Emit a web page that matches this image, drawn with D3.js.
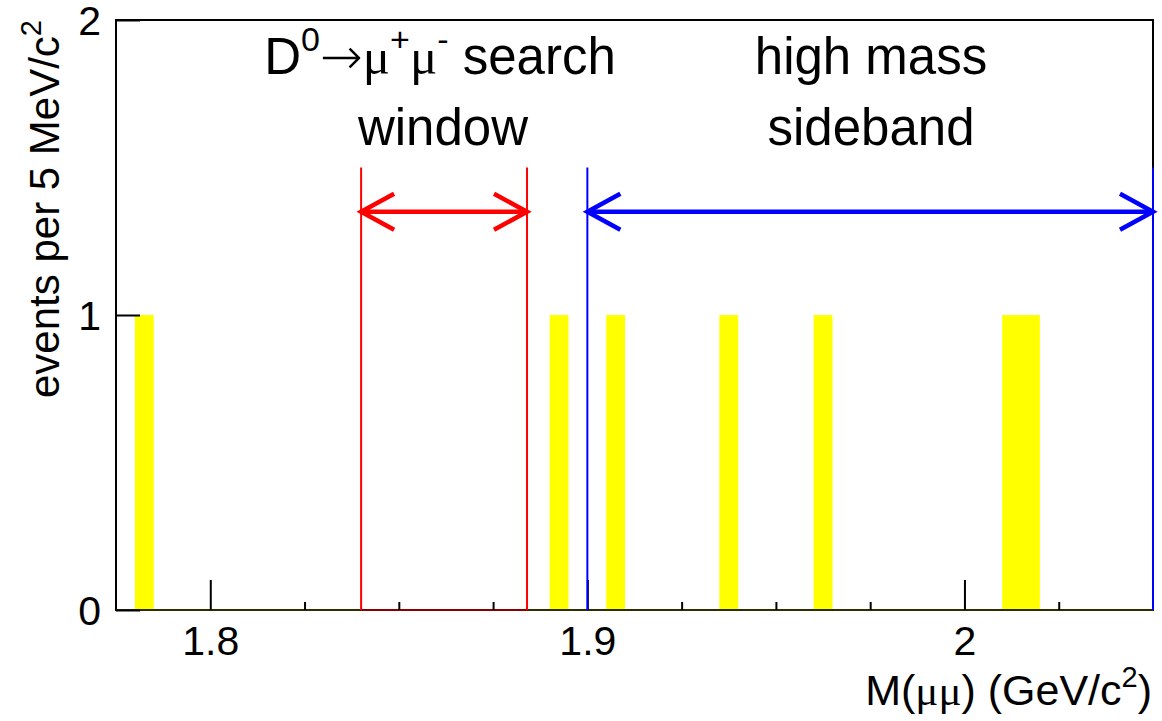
<!DOCTYPE html>
<html>
<head>
<meta charset="utf-8">
<script src="https://cdn.jsdelivr.net/npm/d3@7"></script>
<style>
  html, body { margin: 0; padding: 0; background: #fff; }
  svg { display: block; }
  text { font-family: "Liberation Sans", Arial, Helvetica, sans-serif; fill: #000; }
</style>
</head>
<body>
<svg id="chart" width="1162" height="721"></svg>
<script>
// ---- data ----
const binLow = [1.780, 1.890, 1.905, 1.935, 1.960, 2.010, 2.015];
const binCounts = [1, 1, 1, 1, 1, 1, 1];
const binWidth = 0.005;
const xMajorTicks = [1.8, 1.9, 2.0];
const xTickLabels = ["1.8", "1.9", "2"];
const xMinorTicks = [1.825, 1.85, 1.875, 1.925, 1.95, 1.975, 2.025];
const yTicks = [0, 1, 2];
const yTickLabels = ["0", "1", "2"];
const searchWindow = [1.840, 1.884];
const sideband = [1.900, 2.050];
const lineTop = 1.5;
const arrowLevel = 1.35;

// ---- layout ----
const svg = d3.select("#chart");
const L = 116, R = 1153, T = 20, B = 610;
const x = d3.scaleLinear().domain([1.775, 2.05]).range([L, R]);
const y = d3.scaleLinear().domain([0, 2]).range([B, T]);

// bars
svg.append("g").selectAll("rect").data(binLow).join("rect")
  .attr("x", d => x(d))
  .attr("width", d => x(d + binWidth) - x(d))
  .attr("y", (d, i) => y(binCounts[i]))
  .attr("height", (d, i) => y(0) - y(binCounts[i]))
  .attr("fill", "#ffff00");

// frame
svg.append("rect").attr("x", L).attr("y", T).attr("width", R - L).attr("height", B - T)
  .attr("fill", "none").attr("stroke", "#000").attr("stroke-width", 2);

// bottom axis line (olive tint)
svg.append("line").attr("x1", L).attr("x2", R).attr("y1", B).attr("y2", B)
  .attr("stroke", "#2e2e00").attr("stroke-width", 2);
// red segment along bottom in search window
svg.append("line").attr("x1", x(searchWindow[0])).attr("x2", x(searchWindow[1])).attr("y1", B).attr("y2", B)
  .attr("stroke", "#8a0000").attr("stroke-width", 2);

// x axis ticks
const xAxisMajor = d3.axisBottom(x).tickValues(xMajorTicks).tickSize(-30).tickPadding(44)
  .tickFormat((d, i) => xTickLabels[i]);
const gx = svg.append("g").attr("transform", `translate(0,${B})`).call(xAxisMajor);
gx.select(".domain").remove();
gx.selectAll(".tick line").attr("stroke", "#000").attr("stroke-width", 2);
gx.selectAll(".tick text").attr("font-size", 41).attr("font-family", "Liberation Sans, Arial, sans-serif")
  .attr("dy", 0).attr("y", 45);
const gxm = svg.append("g").attr("transform", `translate(0,${B})`)
  .call(d3.axisBottom(x).tickValues(xMinorTicks).tickSize(-8).tickFormat(""));
gxm.select(".domain").remove();
gxm.selectAll(".tick line").attr("stroke", "#000").attr("stroke-width", 2);

// y axis
const gy = svg.append("g").attr("transform", `translate(${L},0)`)
  .call(d3.axisLeft(y).tickValues(yTicks).tickSize(-24).tickPadding(14).tickFormat((d, i) => yTickLabels[i]));
gy.select(".domain").remove();
gy.selectAll(".tick line").attr("stroke", "#000").attr("stroke-width", 2);
gy.selectAll(".tick text").attr("font-size", 41).attr("font-family", "Liberation Sans, Arial, sans-serif")
  .attr("x", -15).attr("dy", "0.36em");

// window lines and arrows
function drawRange(range, color) {
  const g = svg.append("g");
  range.forEach(v => {
    g.append("line").attr("x1", x(v)).attr("x2", x(v)).attr("y1", y(lineTop)).attr("y2", y(0))
      .attr("stroke", color).attr("stroke-width", 2);
  });
  const x0 = x(range[0]), x1 = x(range[1]), ya = y(arrowLevel);
  g.append("line").attr("x1", x0).attr("x2", x1).attr("y1", ya).attr("y2", ya)
    .attr("stroke", color).attr("stroke-width", 4.5);
  const hx = 33, hy = 18;
  g.append("path").attr("d", `M${x0 + hx},${ya - hy} L${x0},${ya} L${x0 + hx},${ya + hy}`)
    .attr("fill", "none").attr("stroke", color).attr("stroke-width", 4.5);
  g.append("path").attr("d", `M${x1 - hx},${ya - hy} L${x1},${ya} L${x1 - hx},${ya + hy}`)
    .attr("fill", "none").attr("stroke", color).attr("stroke-width", 4.5);
}
drawRange(searchWindow, "#ff0000");
drawRange(sideband, "#0000ff");

// annotation text
const fs = 51;
const t1 = svg.append("text").attr("x", 440).attr("y", 74).attr("text-anchor", "middle").attr("font-size", fs);
t1.append("tspan").text("D");
t1.append("tspan").attr("font-size", 34).attr("dy", -23).text("0");
t1.append("tspan").attr("dy", 23).attr("font-family", "DejaVu Sans, sans-serif").attr("font-weight", 200).text("→");
t1.append("tspan").attr("font-family", "Liberation Serif, serif").text("μ");
t1.append("tspan").attr("font-size", 34).attr("dy", -23).text("+");
t1.append("tspan").attr("dy", 23).attr("font-family", "Liberation Serif, serif").text("μ");
t1.append("tspan").attr("font-size", 34).attr("dy", -23).text("-");
t1.append("tspan").attr("dy", 23).text(" search");

svg.append("text").attr("x", 443).attr("y", 145).attr("text-anchor", "middle").attr("font-size", fs).text("window");
svg.append("text").attr("x", 871).attr("y", 74).attr("text-anchor", "middle").attr("font-size", fs).text("high mass");
svg.append("text").attr("x", 871).attr("y", 145).attr("text-anchor", "middle").attr("font-size", fs).text("sideband");

// x title
const xt = svg.append("text").attr("x", 1152).attr("y", 705).attr("text-anchor", "end").attr("font-size", 43);
xt.append("tspan").text("M(");
xt.append("tspan").attr("font-family", "Liberation Serif, serif").text("μμ");
xt.append("tspan").text(") (GeV/c");
xt.append("tspan").attr("font-size", 29).attr("dy", -18).text("2");
xt.append("tspan").attr("dy", 18).text(")");

// y title
const yt = svg.append("text").attr("transform", `translate(59,${T}) rotate(-90)`)
  .attr("text-anchor", "end").attr("font-size", 42);
yt.append("tspan").text("events per 5 MeV/c");
yt.append("tspan").attr("font-size", 29).attr("dy", -18).text("2");
</script>
</body>
</html>
